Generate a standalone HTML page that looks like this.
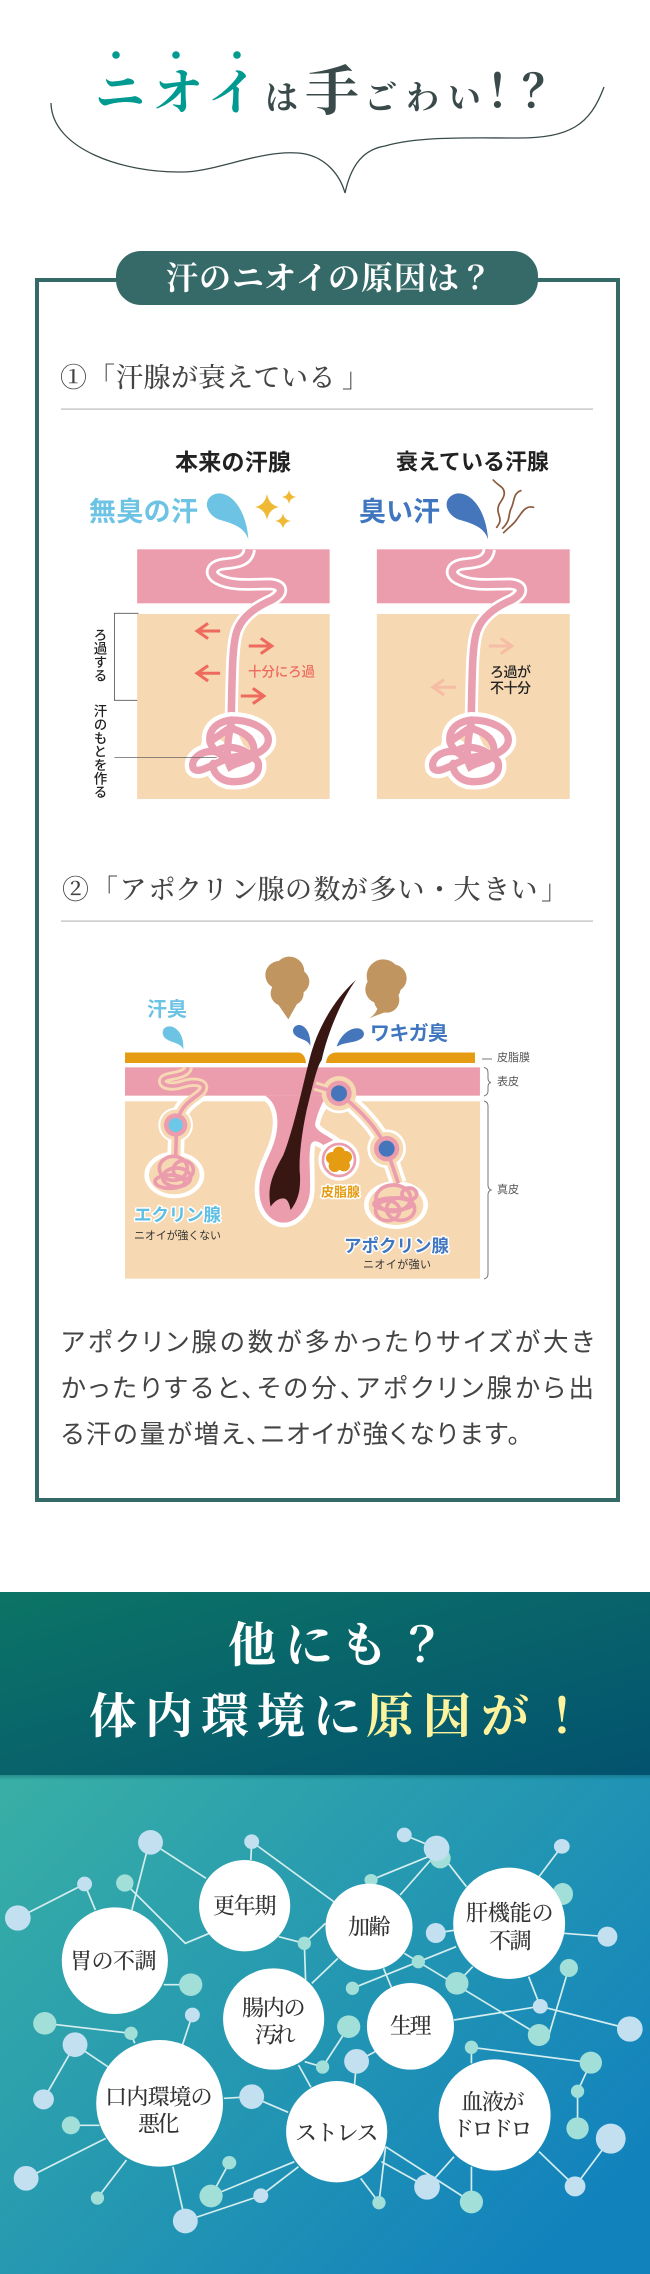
<!DOCTYPE html>
<html lang="ja">
<head>
<meta charset="utf-8">
<style>
html,body{margin:0;padding:0;background:#fff;width:650px;height:2274px;overflow:hidden}
svg{display:block}
text{dominant-baseline:central}
.s{font-family:"Liberation Serif","Noto Serif CJK SC","Noto Serif CJK JP",serif}
.j{font-family:"Liberation Sans","Noto Sans CJK JP",sans-serif}
.o{paint-order:stroke;stroke:#fff;stroke-width:3px;stroke-linejoin:round}
.v{writing-mode:vertical-rl;dominant-baseline:auto}
.n line,.n polyline{stroke:#d4edee;stroke-width:1.7;fill:none;vector-effect:non-scaling-stroke}
.lb{fill:#c3e0f1}
.lg{fill:#a2dfd9}
.big{fill:#fff}
.nt{font-size:22px;fill:#333;font-weight:500;letter-spacing:.5px}
</style>
</head>
<body>
<svg width="650" height="2274" viewBox="0 0 650 2274" xmlns="http://www.w3.org/2000/svg">
<defs>
<linearGradient id="g1" x1="0" y1="0" x2="1" y2="1"><stop offset="0" stop-color="#0c7466"/><stop offset="1" stop-color="#03526f"/></linearGradient>
<linearGradient id="g2" x1="0" y1="0" x2="1" y2=".75"><stop offset="0" stop-color="#39afa5"/><stop offset="1" stop-color="#1282bd"/></linearGradient>
<linearGradient id="sh" x1="0" y1="0" x2="0" y2="1"><stop offset="0" stop-color="#05505a" stop-opacity=".35"/><stop offset="1" stop-color="#05505a" stop-opacity="0"/></linearGradient>

<g id="gland">
  <g transform="translate(60,430) scale(.3444,.3333)" fill="none" stroke-linecap="round">
    <path d="M550,358 C545,395 515,398 475,402 C440,406 430,432 460,448 C500,470 560,462 610,462 C650,465 650,490 615,510 C570,530 530,560 515,600 C500,640 500,720 497,880" stroke="#fff" stroke-width="38" stroke-linecap="butt"/>
    <path d="M550,358 C545,395 515,398 475,402 C440,406 430,432 460,448 C500,470 560,462 610,462 C650,465 650,490 615,510 C570,530 530,560 515,600 C500,640 500,720 497,880" stroke="#ea9fb0" stroke-width="22" stroke-linecap="butt"/>
  </g>
  <g transform="translate(150,700) scale(.3333)" fill="none" stroke-linecap="round">
    <g stroke="#fff" stroke-width="48">
      <path d="M245,60 C300,60 355,85 355,120 C355,150 310,170 270,175 C230,180 190,160 180,125 C175,90 200,65 245,60"/>
      <path d="M195,155 C150,150 120,180 130,205 C145,225 190,190 235,175 C270,165 320,165 325,190 C330,225 300,245 250,245 C210,245 185,215 190,190"/>
    </g>
    <ellipse cx="245" cy="150" rx="95" ry="75" fill="#fff"/>
    <path d="M262,95 L296,118 L300,150 L280,135Z" fill="#f6d8b2"/>
    <path d="M205,115 L232,100 L228,130Z" fill="#f6d8b2"/>
    <g stroke="#ea9fb0" stroke-width="22">
      <path d="M245,60 C300,60 355,85 355,120 C355,150 310,170 270,175 C230,180 190,160 180,125 C175,90 200,65 245,60"/>
      <path d="M195,155 C150,150 120,180 130,205 C145,225 190,190 235,175 C270,165 320,165 325,190 C330,225 300,245 250,245 C210,245 185,215 190,190"/>
      <path d="M245,60 C235,110 225,170 240,200 C255,190 300,180 300,175"/>
      <path d="M245,85 C290,100 320,120 310,170"/>
      <path d="M180,125 L245,80"/>
      <path d="M205,150 C230,135 270,140 310,170"/>
    </g>
  </g>
</g>
</defs>

<!-- title -->
<g fill="#009a90">
<circle cx="116" cy="55" r="3.8"/><circle cx="176" cy="55" r="3.8"/><circle cx="237" cy="55" r="3.8"/>
</g>
<text class="s" y="93" font-size="50" fill="#009a90" font-weight="700" x="95 153 208">ニオイ</text>
<text class="s" y="99" font-size="33" fill="#3a4a4a" font-weight="700" x="265">は</text>
<text class="s" y="92" font-size="54" fill="#3a4a4a" font-weight="700" x="305">手</text>
<text class="s" y="99" font-size="33" fill="#3a4a4a" font-weight="700" x="364 406 448">ごわい</text>
<text class="s" y="92" font-size="46" fill="#3a4a4a" font-weight="700" x="486 522">！？</text>
<path d="M51,103 C52,150 125,173 182,172 C215,172 260,150 298,153 C325,155 340,175 345,193 C350,170 360,150 385,146 C420,136 470,138 518,138 C570,138 590,125 604,87" fill="none" stroke="#3a4a4a" stroke-width="1.3"/>

<!-- frame -->
<rect x="37" y="280" width="581" height="1220" fill="none" stroke="#366a68" stroke-width="4"/>
<rect x="116" y="251" width="422" height="54" rx="25" fill="#366a68"/>
<text class="s" y="278" font-size="32" fill="#fff" x="166 199 232 264 296 328 361 394 427 460" font-weight="700">汗のニオイの原因は？</text>

<text class="s" y="378" font-size="27" fill="#444" font-weight="500" x="60 88 116 143.5 171 198.5 226 253.5 281 308.5 342">①「汗腺が衰えている」</text>
<rect x="61" y="408.5" width="532" height="1.2" fill="#bbb"/>

<!-- diagram 1 -->
<text class="j" x="175" y="462" font-size="23" fill="#222" font-weight="700" textLength="116">本来の汗腺</text>
<text class="j" x="396" y="462" font-size="22" fill="#222" font-weight="700" textLength="153">衰えている汗腺</text>
<text class="j" x="89" y="512" font-size="27" fill="#6cc3e3" font-weight="700" textLength="109">無臭の汗</text>
<text class="j" x="359" y="512" font-size="27" fill="#3f76bf" font-weight="700" textLength="81">臭い汗</text>
<g fill="#efb935">
  <path d="M267,494 Q269,505 279,507 Q269,509 267,520 Q265,509 255,507 Q265,505 267,494Z"/>
  <path d="M289,490 Q290,496 296,497 Q290,498 289,504 Q288,498 282,497 Q288,496 289,490Z"/>
  <path d="M283,513 Q284,520 291,521 Q284,522 283,529 Q282,522 275,521 Q282,520 283,513Z"/>
</g>
<g transform="translate(60,430) scale(.3444,.3333)">
  <path d="M547,328 C535,290 500,280 460,268 C420,250 415,205 450,192 C490,180 540,230 547,328Z" fill="#6cc3e3"/>
  <path d="M1243,328 C1231,290 1196,280 1156,268 C1116,250 1111,205 1146,192 C1186,180 1236,230 1243,328Z" fill="#4575bb"/>
  <g fill="none" stroke="#8b5b3e" stroke-width="5" stroke-linecap="round">
    <path d="M1258,150 C1275,170 1290,170 1290,190 C1290,210 1268,220 1272,245 C1275,262 1285,270 1268,292"/>
    <path d="M1338,182 C1315,190 1320,215 1310,235 C1300,255 1310,270 1285,295"/>
    <path d="M1375,232 C1350,225 1340,250 1325,270 C1315,285 1305,290 1288,308"/>
  </g>
  <rect x="224" y="358" width="559" height="162" fill="#eb9dad"/>
  <rect x="224" y="552" width="559" height="555" fill="#f6d8b2"/>
  <rect x="920" y="358" width="560" height="162" fill="#eb9dad"/>
  <rect x="920" y="552" width="560" height="555" fill="#f6d8b2"/>
</g>
<use href="#gland"/>
<use href="#gland" transform="translate(240,0)"/>
<g transform="translate(60,430) scale(.3444,.3333)" fill="none" stroke-width="9">
  <g stroke="#ee6a5e">
    <path d="M465,603 H398 M430,580 L398,603 L430,626"/>
    <path d="M548,648 H615 M583,625 L615,648 L583,671"/>
    <path d="M465,730 H398 M430,707 L398,730 L430,753"/>
    <path d="M525,798 H592 M560,775 L592,798 L560,821"/>
  </g>
  <g stroke="#f5bca6">
    <path d="M1245,648 H1312 M1280,625 L1312,648 L1280,671"/>
    <path d="M1150,772 H1083 M1115,749 L1083,772 L1115,795"/>
  </g>
  <g stroke="#555" stroke-width="2.4">
    <path d="M228,550 H158 V811 H224"/>
    <path d="M158,983 H455" stroke="#666"/>
  </g>
</g>
<text class="j" x="248" y="672" font-size="13.5" fill="#ee6a5e" font-weight="500" textLength="67">十分にろ過</text>
<text class="j" x="490" y="672" font-size="14" fill="#222" font-weight="500" textLength="41">ろ過が</text>
<text class="j" x="490" y="688" font-size="14" fill="#222" font-weight="500" textLength="41">不十分</text>
<text class="j v" x="99" y="628" font-size="13.5" fill="#222" font-weight="500" style="writing-mode:vertical-rl">ろ過する</text>
<text class="j v" x="99" y="704" font-size="13.5" fill="#222" font-weight="500" style="writing-mode:vertical-rl">汗のもとを作る</text>

<!-- section 2 -->
<text class="s" y="890" font-size="27" fill="#444" font-weight="500" x="62 91 119.5 148.5 175 201.5 231 257.5 285 313.5 340.5 369.5 397.5 426 453.5 483 510.5 541">②「アポクリン腺の数が多い・大きい」</text>
<rect x="61" y="920.5" width="532" height="1.2" fill="#bbb"/>

<g transform="translate(220,950) scale(.3333)">
  <g fill="#c09560">
    <circle cx="178" cy="75" r="42"/><circle cx="208" cy="65" r="45"/><circle cx="230" cy="95" r="38"/><circle cx="190" cy="130" r="38"/><circle cx="215" cy="130" r="36"/><circle cx="200" cy="100" r="45"/>
    <path d="M172,160 L205,208 L232,160Z"/>
    <circle cx="490" cy="78" r="50"/><circle cx="518" cy="85" r="42"/><circle cx="478" cy="118" r="42"/><circle cx="500" cy="150" r="38"/><circle cx="495" cy="110" r="48"/>
    <path d="M448,205 C470,190 480,170 470,150 L510,180 C490,190 470,195 448,205Z"/>
  </g>
  <path d="M271,288 C262,265 235,270 222,252 C212,235 230,218 248,228 C265,238 272,260 271,288Z" fill="#4575bb"/>
  <path d="M350,290 C360,260 385,233 415,235 C435,238 438,260 420,268 C400,280 375,275 350,290Z" fill="#4575bb"/>
</g>
<g transform="translate(60,860) scale(.3444,.3333)">
  <path d="M358,568 C348,545 320,550 303,532 C290,512 305,495 325,500 C348,508 360,535 358,568Z" fill="#6cc3e3"/>
</g>
<text class="j" x="147" y="1010" font-size="20" fill="#6cc3e3" font-weight="700" textLength="40">汗臭</text>
<text class="j" x="370" y="1034" font-size="20" fill="#3f76bf" font-weight="700" textLength="78">ワキガ臭</text>

<!-- orange layer -->
<path d="M125,1052.5 H298 Q305,1053 306,1063 H125Z" fill="#e69c12"/>
<path d="M326,1063 Q327,1053 336,1052.5 H475 V1063 H326Z" fill="#e69c12"/>

<g transform="translate(120,1060) scale(.3333)" fill="none" stroke-linecap="butt">
  <rect x="15" y="124" width="1065" height="532" fill="#f6d8b2"/>
  <!-- white outlines -->
  <path d="M435,107 C465,125 478,165 470,215 C460,280 418,320 418,390 C418,450 455,488 490,488 C535,488 568,440 570,390 C572,340 565,290 572,255 C578,240 590,240 610,255 L640,240 C620,225 590,215 585,195 C590,165 605,130 640,107 Z" fill="#fff" stroke="#fff" stroke-width="28"/>
  <g stroke="#fff" stroke-width="50">
    <path d="M245,95 C220,120 180,130 170,195 L167,290"/>
    <path d="M600,85 L657,100 C720,150 770,200 800,266 L835,370"/>
  </g>
  <circle cx="167" cy="195" r="52" fill="#fff"/>
  <circle cx="657" cy="100" r="60" fill="#fff"/>
  <circle cx="800" cy="266" r="58" fill="#fff"/>
  <circle cx="657" cy="300" r="62" fill="#fff"/>
  <ellipse cx="163" cy="345" rx="90" ry="70" fill="#fff"/>
  <ellipse cx="828" cy="435" rx="96" ry="72" fill="#fff"/>
  <!-- pink band -->
  <rect x="15" y="22" width="1065" height="85" fill="#eb9dad"/>
  <path d="M435,107 C465,125 478,165 470,215 C460,280 418,320 418,390 C418,450 455,488 490,488 C535,488 568,440 570,390 C572,340 565,290 572,255 C578,240 590,240 610,255 L640,240 C620,225 590,215 585,195 C590,165 605,130 620,107 Z" fill="#eb9dad"/>
  <!-- tan tube -->
  <g stroke="#f6d8b2" stroke-width="28">
    <path d="M205,22 C200,50 140,45 130,58 C120,75 150,85 190,72 C230,60 265,70 245,95 C220,120 180,130 170,195 L167,290"/>
    <path d="M585,78 L657,100 C720,150 770,200 800,266 L835,370"/>
  </g>
  <circle cx="167" cy="195" r="46" fill="#f6d8b2"/>
  <circle cx="657" cy="100" r="52" fill="#f6d8b2"/>
  <circle cx="800" cy="266" r="50" fill="#f6d8b2"/>
  <ellipse cx="163" cy="345" rx="76" ry="58" fill="#f6d8b2"/>
  <ellipse cx="828" cy="435" rx="82" ry="60" fill="#f6d8b2"/>
  <!-- pink tube -->
  <g stroke="#eb9dad" stroke-width="11">
    <path d="M205,22 C200,50 140,45 130,58 C120,75 150,85 190,72 C230,60 265,70 245,95 C220,120 180,130 170,195 L167,290"/>
    <path d="M585,78 L657,100 C720,150 770,200 800,266 L835,370"/>
    <ellipse cx="160" cy="325" rx="42" ry="36"/><ellipse cx="190" cy="330" rx="30" ry="28"/><ellipse cx="150" cy="365" rx="45" ry="20"/><ellipse cx="170" cy="352" rx="42" ry="28"/>
    <ellipse cx="820" cy="415" rx="52" ry="40"/><ellipse cx="842" cy="447" rx="42" ry="34"/><ellipse cx="803" cy="452" rx="36" ry="30"/><ellipse cx="868" cy="402" rx="22" ry="18"/><ellipse cx="820" cy="432" rx="58" ry="18"/>
  </g>
  <circle cx="167" cy="195" r="35" fill="#eb9dad"/><circle cx="167" cy="195" r="21" fill="#6cc8e8"/>
  <circle cx="657" cy="100" r="38" fill="#eb9dad"/><circle cx="657" cy="100" r="24" fill="#4575bb"/>
  <circle cx="800" cy="266" r="38" fill="#eb9dad"/><circle cx="800" cy="266" r="24" fill="#4575bb"/>
  <!-- sebaceous -->
  <circle cx="657" cy="300" r="48" fill="#fff" stroke="#eb9dad" stroke-width="8"/>
  <g fill="#e69c12">
    <circle cx="657" cy="300" r="30"/><circle cx="657" cy="278" r="18"/><circle cx="678" cy="291" r="18"/><circle cx="672" cy="316" r="18"/><circle cx="644" cy="318" r="18"/><circle cx="636" cy="294" r="18"/>
  </g>
  <!-- hair -->
  <path d="M708,-240 C640,-180 590,-90 568,0 C545,90 520,210 490,285 C460,340 440,380 452,440 C465,420 480,415 490,415 C505,415 510,440 512,450 C535,420 542,390 540,345 C535,300 545,220 560,150 C575,90 590,20 605,0 C625,-90 670,-190 708,-240Z" fill="#381713"/>
</g>

<text class="j o" x="134" y="1215" font-size="17.5" fill="#5cbfe3" font-weight="700" textLength="87">エクリン腺</text>
<text class="j" x="134" y="1236" font-size="11" fill="#333" textLength="87">ニオイが強くない</text>
<text class="j o" x="321" y="1192" font-size="13" fill="#e69c12" font-weight="700" textLength="39">皮脂腺</text>
<text class="j o" x="344" y="1246" font-size="17.5" fill="#3f76bf" font-weight="700" textLength="105">アポクリン腺</text>
<text class="j" x="363" y="1265" font-size="11" fill="#333" textLength="68">ニオイが強い</text>

<g fill="none" stroke="#777" stroke-width="1">
  <path d="M482,1059 H492"/>
  <path d="M484,1067.5 Q488,1068 488,1073 V1078 Q488,1082 491,1082.5 Q488,1083 488,1087 V1091 Q488,1095 484,1096"/>
  <path d="M484,1101 Q488,1102 488,1106 V1185 Q488,1189 491,1190 Q488,1191 488,1195 V1274 Q488,1278 484,1279"/>
</g>
<text class="j" x="497" y="1058" font-size="11" fill="#555" textLength="33">皮脂膜</text>
<text class="j" x="497" y="1082" font-size="11" fill="#555" textLength="22">表皮</text>
<text class="j" x="497" y="1190" font-size="11" fill="#555" textLength="22">真皮</text>

<!-- paragraph -->
<g class="j" font-size="25.5" fill="#444" font-weight="400" style="font-feature-settings:'palt'">
<text x="61" y="1343" textLength="533">アポクリン腺の数が多かったりサイズが大き</text>
<text x="61" y="1389" textLength="533">かったりすると、その分、アポクリン腺から出</text>
<text x="61" y="1435" textLength="459">る汗の量が増え、ニオイが強くなります。</text>
</g>

<!-- band -->
<rect x="0" y="1592" width="650" height="183" fill="url(#g1)"/>
<text class="s" y="1646" font-size="48" fill="#fff" font-weight="700" x="228 285 340 398">他にも？</text>
<g class="s" font-size="48" font-weight="700">
<text y="1717" fill="#fff" x="89 145 201 257 313">体内環境に</text>
<text y="1717" fill="#fdf29d" x="366 423 481 538">原因が！</text>
</g>

<!-- network -->
<rect x="0" y="1775" width="650" height="499" fill="url(#g2)"/>
<rect x="0" y="1775" width="650" height="5" fill="url(#sh)"/>
<g class="n" transform="translate(0,1770) scale(.41462,.33333)">
<line x1="363" y1="217" x2="497" y2="325"/><line x1="353" y1="250" x2="318" y2="420"/><line x1="204" y1="342" x2="43" y2="444"/><line x1="204" y1="342" x2="230" y2="420"/>
<polyline points="301,339 447,520 505,490"/><line x1="607" y1="215" x2="605" y2="270"/><line x1="607" y1="215" x2="805" y2="395"/>
<line x1="1053" y1="250" x2="895" y2="330"/><line x1="1053" y1="250" x2="965" y2="375"/><line x1="975" y1="195" x2="1053" y2="235"/><line x1="1053" y1="235" x2="1125" y2="350"/>
<line x1="1355" y1="229" x2="1300" y2="320"/><line x1="1051" y1="489" x2="1100" y2="480"/><line x1="1360" y1="490" x2="1465" y2="500"/><line x1="1100" y1="530" x2="850" y2="655"/>
<line x1="975" y1="550" x2="1300" y2="795"/><line x1="1140" y1="590" x2="1102" y2="640"/><line x1="1275" y1="620" x2="1303" y2="709"/><line x1="1303" y1="709" x2="1519" y2="777"/>
<line x1="1095" y1="750" x2="1303" y2="709"/><line x1="1372" y1="594" x2="1325" y2="790"/><line x1="925" y1="595" x2="945" y2="655"/><line x1="672" y1="500" x2="734" y2="520"/>
<line x1="734" y1="520" x2="785" y2="460"/><line x1="734" y1="520" x2="737" y2="630"/><line x1="752" y1="640" x2="815" y2="565"/><line x1="460" y1="644" x2="395" y2="644"/>
<line x1="841" y1="770" x2="778" y2="891"/><line x1="778" y1="891" x2="735" y2="875"/><line x1="720" y1="885" x2="750" y2="952"/><line x1="860" y1="874" x2="905" y2="845"/><line x1="860" y1="874" x2="855" y2="945"/>
<line x1="108" y1="760" x2="316" y2="790"/><line x1="316" y1="790" x2="325" y2="820"/><line x1="464" y1="735" x2="440" y2="825"/><line x1="181" y1="824" x2="260" y2="890"/><line x1="181" y1="824" x2="105" y2="988"/>
<line x1="540" y1="985" x2="607" y2="980"/><line x1="607" y1="980" x2="695" y2="1027"/><line x1="171" y1="1066" x2="240" y2="1066"/><line x1="63" y1="1225" x2="255" y2="1105"/><line x1="305" y1="1170" x2="235" y2="1284"/>
<line x1="417" y1="1190" x2="447" y2="1353"/><line x1="553" y1="1178" x2="509" y2="1278"/><line x1="509" y1="1278" x2="710" y2="1175"/><line x1="629" y1="1277" x2="720" y2="1190"/><line x1="447" y1="1353" x2="629" y2="1277"/>
<line x1="870" y1="1225" x2="914" y2="1298"/><line x1="930" y1="1130" x2="914" y2="1298"/><line x1="920" y1="1175" x2="1030" y2="1251"/><line x1="930" y1="1130" x2="1137" y2="1296"/><line x1="1030" y1="1251" x2="1095" y2="1160"/>
<line x1="1137" y1="1296" x2="1137" y2="1190"/><line x1="1300" y1="1145" x2="1387" y2="1249"/><line x1="1387" y1="1249" x2="1473" y2="1106"/><line x1="1137" y1="832" x2="1137" y2="880"/><line x1="1137" y1="832" x2="1425" y2="878"/>
<line x1="1425" y1="878" x2="1393" y2="964"/><line x1="1393" y1="964" x2="1393" y2="1075"/>

<g class="lg">
<ellipse cx="301" cy="339" rx="21" ry="26"/><ellipse cx="460" cy="644" rx="28" ry="34"/><ellipse cx="734" cy="520" rx="16" ry="20"/><ellipse cx="895" cy="330" rx="16" ry="18"/><ellipse cx="1062" cy="265" rx="25" ry="30"/><ellipse cx="1357" cy="372" rx="25" ry="33"/><ellipse cx="1009" cy="575" rx="16" ry="20"/><ellipse cx="850" cy="655" rx="16" ry="20"/><ellipse cx="1102" cy="640" rx="28" ry="34"/><ellipse cx="1372" cy="594" rx="22" ry="27"/><ellipse cx="1300" cy="795" rx="27" ry="33"/><ellipse cx="841" cy="770" rx="28" ry="34"/><ellipse cx="778" cy="891" rx="16" ry="20"/><ellipse cx="108" cy="760" rx="28" ry="34"/><ellipse cx="316" cy="790" rx="16" ry="20"/><ellipse cx="171" cy="1066" rx="22" ry="27"/><ellipse cx="235" cy="1284" rx="16" ry="20"/><ellipse cx="553" cy="1178" rx="17" ry="20"/><ellipse cx="509" cy="1278" rx="28" ry="34"/><ellipse cx="914" cy="1298" rx="16" ry="20"/><ellipse cx="1137" cy="1296" rx="28" ry="34"/><ellipse cx="1137" cy="832" rx="16" ry="20"/><ellipse cx="1425" cy="878" rx="27" ry="33"/><ellipse cx="1393" cy="964" rx="16" ry="20"/><ellipse cx="1393" cy="1075" rx="27" ry="33"/>
</g>
<g class="lb">
<ellipse cx="363" cy="217" rx="30" ry="37"/><ellipse cx="204" cy="342" rx="18" ry="22"/><ellipse cx="43" cy="444" rx="31" ry="38"/><ellipse cx="607" cy="215" rx="18" ry="22"/><ellipse cx="975" cy="195" rx="18" ry="22"/><ellipse cx="1053" cy="235" rx="31" ry="38"/><ellipse cx="1355" cy="229" rx="19" ry="22"/><ellipse cx="1051" cy="489" rx="24" ry="30"/><ellipse cx="1465" cy="500" rx="24" ry="30"/><ellipse cx="1303" cy="709" rx="18" ry="22"/><ellipse cx="1519" cy="777" rx="31" ry="38"/><ellipse cx="860" cy="874" rx="30" ry="37"/><ellipse cx="181" cy="824" rx="30" ry="37"/><ellipse cx="105" cy="988" rx="25" ry="30"/><ellipse cx="464" cy="735" rx="18" ry="22"/><ellipse cx="607" cy="980" rx="30" ry="37"/><ellipse cx="63" cy="1225" rx="30" ry="37"/><ellipse cx="447" cy="1353" rx="30" ry="37"/><ellipse cx="629" cy="1277" rx="18" ry="22"/><ellipse cx="1030" cy="1251" rx="31" ry="38"/><ellipse cx="1387" cy="1249" rx="25" ry="30"/><ellipse cx="1473" cy="1106" rx="36" ry="45"/>
</g>
<g class="big">
<ellipse cx="277" cy="572" rx="128" ry="160"/><ellipse cx="590" cy="407" rx="110" ry="137"/><ellipse cx="890" cy="471" rx="105" ry="130"/><ellipse cx="1228" cy="460" rx="135" ry="167"/><ellipse cx="660" cy="747" rx="122" ry="152"/><ellipse cx="990" cy="769" rx="105" ry="130"/><ellipse cx="385" cy="1000" rx="153" ry="190"/><ellipse cx="812" cy="1085" rx="122" ry="152"/><ellipse cx="1193" cy="1035" rx="135" ry="167"/>
</g>
</g>
<g class="s nt">
<text x="70" y="1961" textLength="87">胃の不調</text>
<text x="213" y="1906" textLength="64">更年期</text>
<text x="348" y="1927" textLength="43">加齢</text>
<text x="466" y="1913" textLength="88">肝機能の</text>
<text x="489" y="1941" textLength="43">不調</text>
<text x="242" y="2008" textLength="64">腸内の</text>
<text x="255" y="2035" textLength="41">汚れ</text>
<text x="390" y="2026" textLength="42">生理</text>
<text x="105" y="2097" textLength="108">口内環境の</text>
<text x="138" y="2124" textLength="42">悪化</text>
<text x="295" y="2133" textLength="84">ストレス</text>
<text x="461" y="2102" textLength="64">血液が</text>
<text x="452" y="2129" textLength="81">ドロドロ</text>
</g>
</svg>
</body>
</html>
